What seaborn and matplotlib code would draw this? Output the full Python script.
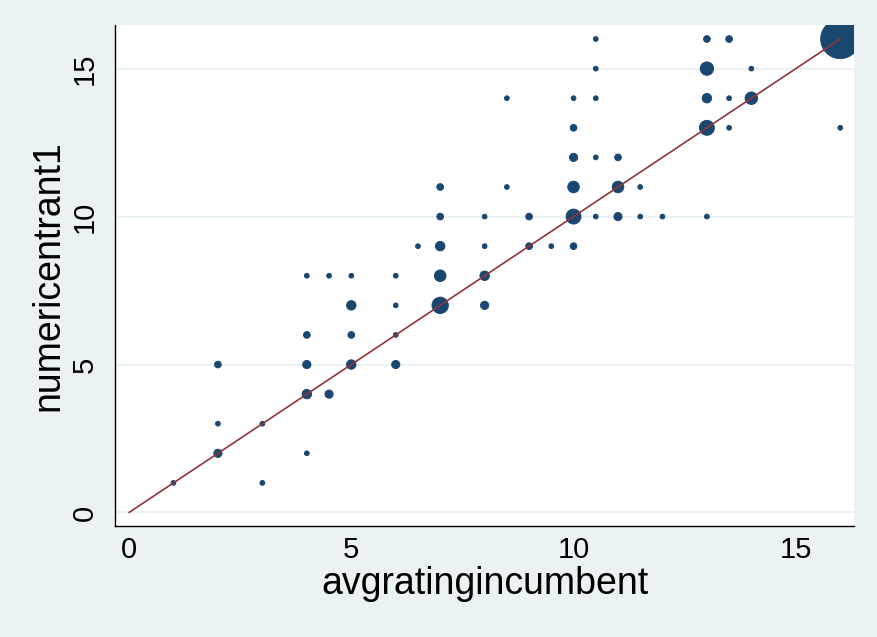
import numpy as np
import pandas as pd
import matplotlib
matplotlib.use("Agg")
import matplotlib.pyplot as plt
import seaborn as sns

# === Data ===
incumbent = [1, 2, 2, 2, 3, 3, 4, 4, 4, 4, 4, 4.5, 4.5, 5, 5, 5, 5,
             6, 6, 6, 6, 6.5, 7, 7, 7, 7, 7, 8, 8, 8, 8, 8.5, 8.5,
             9, 9, 9.5, 10, 10, 10, 10, 10, 10, 10.5, 10.5, 10.5, 10.5, 10.5,
             11, 11, 11, 11.5, 11.5, 12, 13, 13, 13, 13, 13, 13.5, 13.5, 13.5,
             14, 14, 16, 16]
entrant = [1, 2, 3, 5, 1, 3, 2, 4, 5, 6, 8, 4, 8, 5, 6, 7, 8,
           5, 6, 7, 8, 9, 7, 8, 9, 10, 11, 7, 8, 9, 10, 11, 14,
           9, 10, 9, 9, 10, 11, 12, 13, 14, 10, 12, 14, 15, 16,
           10, 11, 12, 10, 11, 10, 10, 13, 14, 15, 16, 13, 14, 16,
           14, 15, 13, 16]
counts = [1, 3, 1, 2, 1, 1, 1, 4, 3, 2, 1, 3, 1, 4, 2, 4, 1,
          3, 1, 1, 1, 1, 12, 6, 4, 2, 2, 3, 4, 1, 1, 1, 1,
          2, 2, 1, 2, 10, 6, 3, 2, 1, 1, 1, 1, 1, 1,
          3, 6, 2, 1, 1, 1, 1, 10, 4, 8, 2, 1, 1, 2,
          7, 1, 1, 69]

df = pd.DataFrame({"avgratingincumbent": incumbent,
                   "numericentrant1": entrant,
                   "n": counts})

# identity line over the data range
line_df = pd.DataFrame({"x": [0, max(incumbent)], "y": [0, max(incumbent)]})

BG = "#EAF2F3"
NAVY = "#1A476F"
MAROON = "#90353B"

sns.set_style("white")
plt.rcParams["font.family"] = ["Liberation Sans", "DejaVu Sans"]
plt.rcParams["text.color"] = "black"
plt.rcParams["axes.labelcolor"] = "black"

fig = plt.figure(figsize=(8.78, 6.37), dpi=100, facecolor=BG)
ax = fig.add_axes([0.1310, 0.1743, 0.8417, 0.7872])
ax.set_facecolor("white")

# marker area proportional to number of observations (Stata-style weights)
sns.scatterplot(data=df, x="avgratingincumbent", y="numericentrant1",
                size="n", sizes=(0, 11.5 * 69), size_norm=(0, 69),
                color=NAVY, edgecolor=NAVY, linewidth=0.7,
                legend=False, ax=ax, zorder=2)
sns.lineplot(data=line_df, x="x", y="y", color=MAROON, linewidth=1.2,
             ax=ax, zorder=3)

ax.set_xlim(-0.315, 16.31)
ax.set_ylim(-0.456, 16.49)
ax.set_xticks([0, 5, 10, 15])
ax.set_yticks([0, 5, 10, 15])

ax.grid(axis="y", color=BG, linewidth=1.5, zorder=0)
ax.grid(axis="x", visible=False)
ax.set_axisbelow(True)

for side in ["top", "right"]:
    ax.spines[side].set_visible(False)
for side in ["left", "bottom"]:
    ax.spines[side].set_color("black")
    ax.spines[side].set_linewidth(1.0)

ax.tick_params(axis="both", direction="out", length=6.5, width=0.9,
               color="black", labelsize=21, labelcolor="black")
ax.tick_params(axis="x", pad=1)
ax.tick_params(axis="y", pad=5)
for lab in ax.get_yticklabels():
    lab.set_rotation(90)
    lab.set_va("center")

ax.set_xlabel("avgratingincumbent", fontsize=27, labelpad=1, color="black")
ax.set_ylabel("numericentrant1", fontsize=27, labelpad=3, color="black")

fig.savefig("out.png", dpi=100, facecolor=BG)
